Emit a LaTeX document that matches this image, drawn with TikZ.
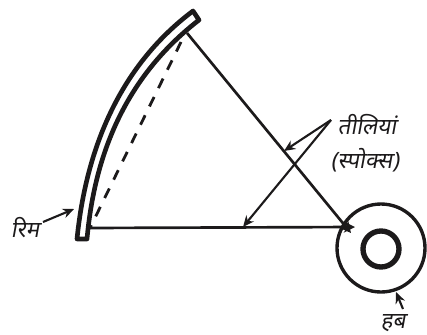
\documentclass[tikz,border=0pt]{standalone}
\usepackage{fontspec}
\usepackage{tikz}
\usetikzlibrary{arrows.meta, positioning}
\newfontfamily\hindifont[Script=Devanagari,FakeSlant=0.18]{Noto Sans}
\definecolor{inkblack}{RGB}{28, 26, 27}
\tikzset{
  rimline/.style={draw=inkblack, line width=3.3pt, line join=round},
  spoke/.style={draw=inkblack, line width=1.9pt, -{Stealth[length=8pt, width=8pt]}},
  chordline/.style={draw=inkblack, line width=2pt, dash pattern=on 7.5pt off 7pt},
  pointer/.style={draw=inkblack, line width=1.5pt, -{Stealth[length=8pt, width=7pt]}},
  hubring/.style={circle, draw=inkblack, inner sep=0pt},
  hindilabel/.style={font=\fontsize{16}{18}\selectfont\hindifont, text=inkblack, inner sep=0pt}
}
\begin{document}
\begin{tikzpicture}[x=0.025cm, y=-0.025cm]
    \useasboundingbox (0, 0) rectangle (427, 335);

    % Rim
    \draw[rimline] (77, 239) .. controls (87, 140) and (125, 62) .. (193, 11)
        -- (199, 20) .. controls (128, 75) and (95, 150) .. (87, 239) -- cycle;

    % Hub
    \node[hubring, line width=2.4pt, minimum size=88*0.025cm] (HubOuter) at (381, 248) {};
    \node[hubring, line width=3.8pt, minimum size=36*0.025cm] (HubInner) at (381, 249) {};

    % Spokes
    \coordinate (RimTop) at (187, 33);
    \coordinate (RimBottom) at (90, 228);
    \coordinate (HubTipA) at (351, 233);
    \coordinate (HubTipB) at (355, 227);
    \draw[spoke] (RimTop) -- (HubTipA);
    \draw[spoke] (RimBottom) -- (HubTipB);
    \draw[chordline] (RimTop) ++(-6, 9) coordinate (ChordTop) (ChordTop) -- (RimBottom);

    % Labels
    \node[hindilabel] (SpokeLabel) at (367, 125) {तीलियां};
    \node[hindilabel] (SpokeNote) at (365, 160) {(स्पोक्स)};
    \node[hindilabel] (RimLabel) at (25, 228) {रिम};
    \node[hindilabel] (HubLabel) at (393, 323) {हब};

    % Pointers
    \coordinate (SpokeStart) at (331, 120);
    \coordinate (SpokeEndA) at (284, 151);
    \coordinate (SpokeEndB) at (243, 227);
    \coordinate (RimEnd) at (74, 209);
    \coordinate (HubEnd) at (396, 292);
    \draw[pointer] (SpokeStart) -- (SpokeEndA);
    \draw[pointer] (SpokeStart) -- (SpokeEndB);
    \draw[pointer] (RimLabel) ++(18, -6) coordinate (RimStart) (RimStart) -- (RimEnd);
    \draw[pointer] (HubLabel) ++(10, -14) coordinate (HubStart) (HubStart) -- (HubEnd);
\end{tikzpicture}
\end{document}
